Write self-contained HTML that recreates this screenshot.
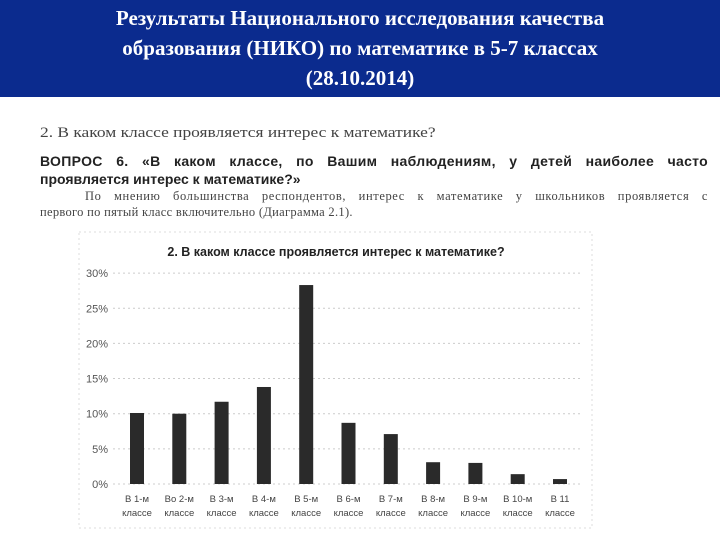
<!DOCTYPE html>
<html><head><meta charset="utf-8"><style>
body{margin:0;width:720px;height:540px;background:#fff;overflow:hidden;position:relative;font-family:"Liberation Serif",serif}
#hdr{position:absolute;left:0;top:0;width:720px;height:97px;background:#0b2b8e;color:#fff;text-align:center;font-weight:bold;font-size:21px;line-height:30px;padding-top:3px;box-sizing:border-box}
.t{position:absolute;color:#222;white-space:nowrap}
.j{text-align:justify;text-align-last:justify}
</style></head><body>
<div id="hdr">Результаты Национального исследования качества<br>образования (НИКО) по математике в 5-7 классах<br>(28.10.2014)</div>
<div class="t" style="left:40px;top:125px;font-size:15px;color:#444;transform-origin:0 0;transform:scaleX(1.16)">2. В каком классе проявляется интерес к математике?</div>
<div class="t j" style="left:40px;top:153px;width:668px;font-family:'Liberation Sans',sans-serif;font-size:14px;font-weight:bold;letter-spacing:0.3px">ВОПРОС 6. «В каком классе, по Вашим наблюдениям, у детей наиболее часто</div>
<div class="t" style="left:40px;top:171px;font-family:'Liberation Sans',sans-serif;font-size:14px;font-weight:bold">проявляется интерес к математике?»</div>
<div class="t j" style="left:85px;top:189px;width:623px;font-size:12.5px;color:#444;letter-spacing:0.6px">По мнению большинства респондентов, интерес к математике у школьников проявляется с</div>
<div class="t" style="left:40px;top:205px;font-size:12.5px;color:#444;letter-spacing:0.3px">первого по пятый класс включительно (Диаграмма 2.1).</div>
<svg id="chart" width="720" height="540" style="position:absolute;left:0;top:0">
<rect x="79" y="232" width="513" height="296" fill="none" stroke="#ddd" stroke-dasharray="2,3"/>
<text x="336" y="256" text-anchor="middle" font-family="Liberation Sans, sans-serif" font-weight="bold" font-size="12.5" fill="#222">2. В каком классе проявляется интерес к математике?</text>
<g id="grid"></g><g id="bars"></g><g id="labels"></g>
</svg>
<script>
const categories1=["В 1-м","Во 2-м","В 3-м","В 4-м","В 5-м","В 6-м","В 7-м","В 8-м","В 9-м","В 10-м","В 11"];
const categories2="классе";
const values=[10.1,10,11.7,13.8,28.3,8.7,7.1,3.1,3.0,1.4,0.7];
const ticks=[0,5,10,15,20,25,30];
const NS="http://www.w3.org/2000/svg";
const y=v=>484-v*7.03;
const x=i=>137+i*42.3;
function mk(t,a,p){const e=document.createElementNS(NS,t);for(const k in a)e.setAttribute(k,a[k]);p.appendChild(e);return e;}
const g=document.getElementById('grid'),b=document.getElementById('bars'),l=document.getElementById('labels');
ticks.forEach(t=>{
 const ln=mk('line',{x1:113,x2:580,y1:y(t),y2:y(t),stroke:'#ccc','stroke-dasharray':'2,3'},g);
 
 
 const tx=mk('text',{x:108,y:y(t)+4,'text-anchor':'end','font-family':'Liberation Sans, sans-serif','font-size':'11',fill:'#555'},g);
 tx.textContent=t+'%';
 
 
});
values.forEach((v,i)=>{
 const r=mk('rect',{x:x(i)-7,y:y(v),width:14,height:484-y(v),fill:'#2a2a2a'},b);
 
 
 const t1=mk('text',{x:x(i),y:502,'text-anchor':'middle','font-family':'Liberation Sans, sans-serif','font-size':'9.5',fill:'#444'},l);
 t1.textContent=categories1[i];
 
 
 const t2=mk('text',{x:x(i),y:516,'text-anchor':'middle','font-family':'Liberation Sans, sans-serif','font-size':'9.5',fill:'#444'},l);
 t2.textContent=categories2;
 
 
});
</script>
</body></html>
